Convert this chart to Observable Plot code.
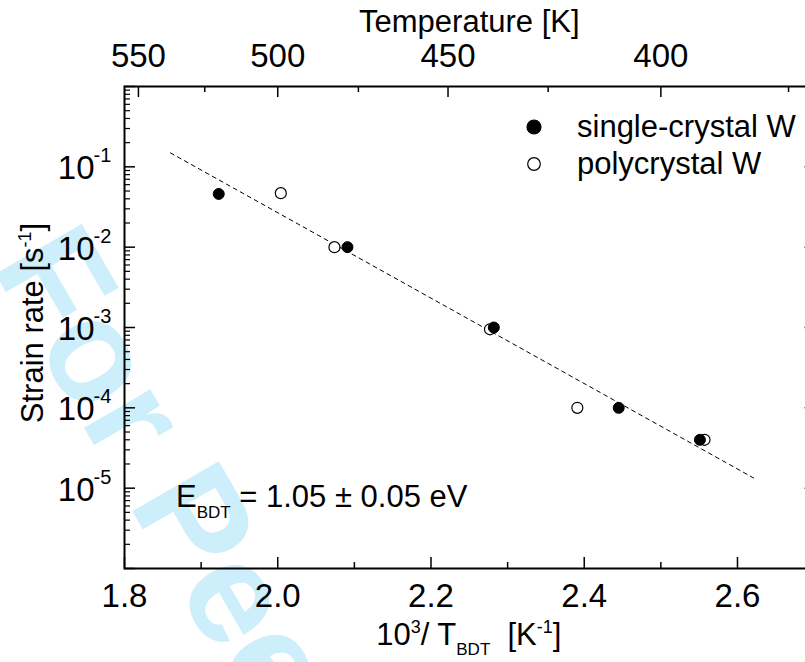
<!DOCTYPE html>
<html>
<head>
<meta charset="utf-8">
<script src="https://cdn.jsdelivr.net/npm/d3@7"></script>
<script src="https://cdn.jsdelivr.net/npm/@observablehq/plot@0.6"></script>
<style>
  html, body { margin: 0; padding: 0; background: white; overflow: hidden; }
  #wrap { width: 805px; height: 662px; overflow: hidden; position: relative; }
  #wrap svg { max-width: none !important; width: 830px; height: 662px; }
  text { font-family: "Liberation Sans", Arial, Helvetica, sans-serif; }
</style>
</head>
<body>
<div id="wrap"></div>
<script>
// ---- data ----
const singleX = [1.923, 2.091, 2.282, 2.445, 2.551];
const singleY = [0.046, 0.01, 0.001, 0.0001, 0.00004];
const polyX = [2.004, 2.074, 2.277, 2.391, 2.557];
const polyY = [0.047, 0.01, 0.00095, 0.0001, 0.00004];
const fitX = [1.86, 2.621];
const fitY = [0.149, 0.0000134];
const xTicksMajor = [1.8, 2.0, 2.2, 2.4, 2.6];
const xTicksMinor = [1.9, 2.1, 2.3, 2.5];
const tempMajor = [550, 500, 450, 400];
const tempMinor = [525, 475, 425, 375];
const decades = [1e-6, 1e-5, 1e-4, 1e-3, 1e-2, 1e-1, 1];
const labelDecades = [1e-1, 1e-2, 1e-3, 1e-4, 1e-5];
const seriesNames = ["single-crystal W", "polycrystal W"];
const watermark = "For Peer Review";

const single = singleX.map((x, i) => ({x, y: singleY[i]}));
const poly = polyX.map((x, i) => ({x, y: polyY[i]}));
const fit = fitX.map((x, i) => ({x, y: fitY[i]}));
const minors = [];
for (const d of decades.slice(0, -1)) for (let m = 2; m <= 9; m++) minors.push(d * m);

const W = 830, H = 662;
const mL = 124, mR = 16.4, mT = 86, mB = 94;
const FW = W - mL - mR, FH = H - mT - mB;
const font = 31;
const tickFont = 33;

const chart = Plot.plot({
  width: W, height: H,
  marginLeft: mL, marginRight: mR, marginTop: mT, marginBottom: mB,
  style: {fontFamily: '"Liberation Sans", Arial, sans-serif', fontSize: font + "px", color: "black", background: "white", overflow: "visible", maxWidth: "none"},
  x: {domain: [1.8, 2.7]},
  y: {type: "log", domain: [1e-6, 1]},
  marks: [
    Plot.text([watermark], {frameAnchor: "top-left", dx: -134, dy: 179, rotate: 60, text: d => d,
      fontSize: 145, fontWeight: "bold", fill: "#cdeefb", textAnchor: "start", lineAnchor: "bottom"}),
    // bottom ticks
    Plot.tickX(xTicksMajor, {x: d => d, insetTop: FH - 11, stroke: "black", strokeWidth: 1.5}),
    Plot.tickX(xTicksMinor, {x: d => d, insetTop: FH - 6, stroke: "black", strokeWidth: 1.5}),
    // top ticks (temperature)
    Plot.tickX(tempMajor, {x: d => 1000 / d, insetBottom: FH - 11, stroke: "black", strokeWidth: 1.5}),
    Plot.tickX(tempMinor, {x: d => 1000 / d, insetBottom: FH - 6, stroke: "black", strokeWidth: 1.5}),
    // left ticks
    Plot.tickY(decades, {y: d => d, insetRight: FW - 11, stroke: "black", strokeWidth: 1.5}),
    Plot.tickY(minors, {y: d => d, insetRight: FW - 6, stroke: "black", strokeWidth: 1.2}),
    // right ticks
    Plot.tickY(decades, {y: d => d, insetLeft: FW - 9, stroke: "black", strokeWidth: 1.5}),
    Plot.axisX({anchor: "bottom", ticks: xTicksMajor, tickSize: 0, tickPadding: 15, tickFormat: d => d.toFixed(1), fontSize: tickFont, label: null}),
    Plot.axisX({anchor: "top", ticks: tempMajor.map(t => 1000 / t), tickSize: 0, tickPadding: 20, tickFormat: d => String(Math.round(1000 / d)), fontSize: tickFont, label: null}),
    Plot.axisY({anchor: "left", ticks: labelDecades, tickSize: 0, tickPadding: 30, tickFormat: () => "10", fontSize: tickFont, dy: 2, label: null}),
    Plot.text(labelDecades, {y: d => d, frameAnchor: "left", text: d => String(Math.round(Math.log10(d))), dx: -31, dy: -11, textAnchor: "start", fontSize: 20}),
    Plot.text(["Temperature [K]"], {frameAnchor: "top", dy: -64, lineAnchor: "middle", text: d => d, fontSize: font}),
    Plot.frame({stroke: "black", strokeWidth: 2}),
    Plot.line(fit, {x: "x", y: "y", stroke: "black", strokeWidth: 1, strokeDasharray: "4,4"}),
    Plot.dot(poly, {x: "x", y: "y", r: 5.5, fill: "white", stroke: "black", strokeWidth: 1.2}),
    Plot.dot(single, {x: "x", y: "y", r: 5.5, fill: "black", stroke: "black", strokeWidth: 1})
  ]
});

document.getElementById("wrap").appendChild(chart);

// rich text annotations (super/subscripts)
const svg = d3.select(chart);
const g = svg.append("g").attr("fill", "black").attr("text-anchor", "start").style("white-space", "pre");

// x label
const xl = g.append("text").attr("x", mL + FW / 2).attr("y", 645).attr("text-anchor", "middle").attr("font-size", font);
xl.append("tspan").text("10");
xl.append("tspan").attr("font-size", 18).attr("dy", -12).text("3");
xl.append("tspan").attr("dy", 12).text("/ T");
xl.append("tspan").attr("font-size", 17).attr("dy", 10).text("BDT");
xl.append("tspan").attr("dy", -10).text("  [K");
xl.append("tspan").attr("font-size", 18).attr("dy", -12).text("-1");
xl.append("tspan").attr("dy", 12).text("]");

// y label
const yl = g.append("text").attr("transform", `translate(43, ${mT + FH / 2 - 4}) rotate(-90)`).attr("text-anchor", "middle").attr("font-size", font);
yl.append("tspan").text("Strain rate [s");
yl.append("tspan").attr("font-size", 18).attr("dy", -12).text("-1");
yl.append("tspan").attr("dy", 12).text("]");

// activation energy annotation
const ea = g.append("text").attr("x", 176).attr("y", 507).attr("text-anchor", "start").attr("font-size", font);
ea.append("tspan").text("E");
ea.append("tspan").attr("font-size", 17).attr("dy", 11).text("BDT");
ea.append("tspan").attr("dy", -11).text(" = 1.05 \u00b1 0.05 eV");

// legend
const lg = g.append("g");
[0, 1].forEach(i => {
  const cy = 127 + i * 37;
  lg.append("circle").attr("cx", 534).attr("cy", cy).attr("r", i === 0 ? 7 : 6.3)
    .attr("fill", i === 0 ? "black" : "white").attr("stroke", "black").attr("stroke-width", 1.2);
  lg.append("text").attr("x", 577).attr("y", cy + 10).attr("text-anchor", "start").attr("font-size", font).text(seriesNames[i]);
});
</script>
</body>
</html>
